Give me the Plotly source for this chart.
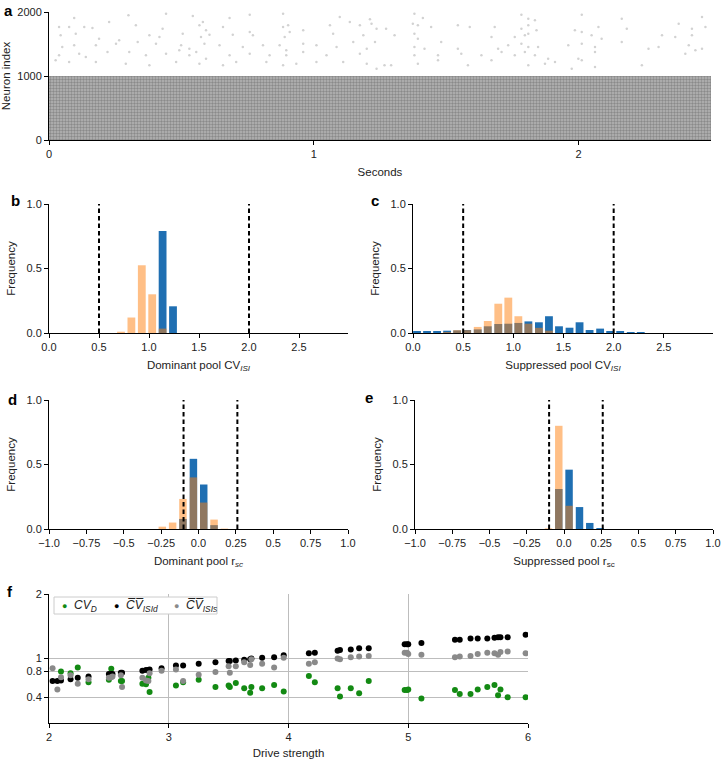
import plotly.graph_objects as go

W, H = 721, 759
FONT = "Liberation Sans, Arial, sans-serif"

# ---- (a) spike raster -------------------------------------------------------
DURATION_S = 2.5
DOMINANT_POOL = 1000
TOTAL_NEURONS = 2000
# spikes of the suppressed pool (neurons 1000-2000)
SUPP_SPIKE_T = [
    0.095, 0.30, 0.442, 0.543, 0.682, 0.758, 0.884, 1.098, 1.212, 0.038, 0.076, 0.133,
    0.164, 0.227, 0.328, 0.429, 0.568, 0.581, 0.593, 0.657, 0.758, 0.884, 0.903, 0.96,
    1.061, 1.136, 1.174, 1.218, 1.237, 0.044, 0.101, 0.189, 0.265, 0.379, 0.417, 0.505,
    0.574, 0.606, 0.694, 0.77, 0.89, 0.909, 1.073, 1.187, 0.05, 0.095, 0.177, 0.253,
    0.335, 0.404, 0.499, 0.53, 0.587, 0.644, 0.732, 0.808, 0.871, 0.896, 0.96, 1.01,
    1.086, 1.149, 1.2, 1.231, 0.038, 0.114, 0.139, 0.221, 0.303, 0.366, 0.442, 0.492,
    0.53, 0.556, 0.593, 0.682, 0.758, 0.833, 0.896, 0.96, 1.048, 1.174, 0.025, 0.076,
    0.177, 0.29, 0.379, 0.48, 0.568, 0.657, 0.707, 0.821, 0.884, 0.934, 1.01, 1.111,
    1.2, 1.237,
    1.38, 1.412, 1.784, 1.81, 1.835, 2.012, 2.163, 2.466, 1.273, 1.374, 1.393, 1.443,
    1.544, 1.589, 1.683, 1.784, 1.81, 1.841, 1.986, 2.012, 2.075, 2.182, 2.378, 2.428,
    2.479, 1.305, 1.38, 1.393, 1.481, 1.671, 1.759, 1.797, 1.81, 2.049, 2.087, 2.163,
    2.315, 2.365, 2.428, 1.38, 1.418, 1.544, 1.696, 1.734, 1.784, 1.81, 1.847, 1.961,
    2.012, 2.062, 2.264, 2.302, 2.416, 2.466, 1.38, 1.469, 1.557, 1.633, 1.709, 1.759,
    1.797, 1.835, 1.885, 1.999, 2.062, 2.403, 2.441, 1.267, 1.292, 1.393, 1.469, 1.582,
    1.671, 1.81, 1.873, 1.911, 1.974, 2.012, 2.062, 2.239,
]
SUPP_SPIKE_N = [
    1906, 1948, 1974, 1938, 1906, 1958, 1974, 1922, 1885, 1766, 1766, 1766,
    1750, 1844, 1792, 1740, 1792, 1844, 1714, 1766, 1688, 1766, 1792, 1714,
    1792, 1844, 1792, 1818, 1740, 1635, 1661, 1583, 1557, 1635, 1609, 1661,
    1609, 1646, 1646, 1635, 1609, 1688, 1661, 1635, 1453, 1479, 1479, 1505,
    1531, 1505, 1479, 1427, 1505, 1479, 1453, 1479, 1479, 1401, 1505, 1479,
    1453, 1531, 1427, 1531, 1323, 1349, 1297, 1375, 1375, 1323, 1349, 1401,
    1323, 1375, 1271, 1323, 1349, 1323, 1323, 1375, 1323, 1349, 1245, 1219,
    1219, 1193, 1167, 1219, 1193, 1167, 1219, 1219, 1167, 1193, 1219, 1219,
    1193, 1115,
    1974, 1906, 1958, 1896, 1870, 1958, 1896, 1922, 1740, 1818, 1792, 1766,
    1792, 1766, 1766, 1740, 1792, 1714, 1714, 1688, 1766, 1740, 1818, 1740,
    1766, 1635, 1661, 1583, 1531, 1609, 1609, 1635, 1661, 1635, 1583, 1531,
    1635, 1609, 1635, 1453, 1427, 1427, 1427, 1479, 1505, 1453, 1453, 1479,
    1505, 1453, 1427, 1453, 1479, 1427, 1323, 1323, 1349, 1323, 1375, 1323,
    1375, 1323, 1271, 1271, 1375, 1349, 1401, 1167, 1167, 1193, 1245, 1167,
    1245, 1167, 1193, 1219, 1115, 1245, 1141, 1167,
]

# ---- (b)-(e) histograms (blue = first set, orange = second set) ---------------
CV_BOUNDS = [0.5, 2.0]
RSC_BOUNDS = [-0.1, 0.26]

B_BINS = [0.72, 0.824, 0.928, 1.032, 1.136, 1.24]
B_BLUE = [0.0, 0.0, 0.0, 0.0, 0.79, 0.207]
B_ORANGE = [0.01, 0.12, 0.525, 0.30, 0.034, 0.0]

C_BINS = [0.04, 0.14, 0.24, 0.34, 0.44, 0.54, 0.645, 0.745, 0.85, 0.95, 1.05, 1.15,
          1.255, 1.355, 1.455, 1.56, 1.66, 1.76, 1.865, 1.965, 2.065, 2.17, 2.27]
C_BLUE = [0.013, 0.010, 0.010, 0.018, 0.020, 0.023, 0.028, 0.052, 0.070, 0.072, 0.078,
          0.090, 0.083, 0.130, 0.052, 0.041, 0.083, 0.023, 0.034, 0.013, 0.008, 0.005, 0.003]
C_ORANGE = [0.0, 0.0, 0.0, 0.008, 0.022, 0.022, 0.047, 0.093, 0.227, 0.274, 0.130,
            0.072, 0.040, 0.018, 0.0, 0.0, 0.0, 0.0, 0.0, 0.0, 0.0, 0.0, 0.0]

D_BINS = [-0.242, -0.173, -0.104, -0.034, 0.035, 0.104, 0.173]
D_BLUE = [0.0, 0.0, 0.078, 0.544, 0.345, 0.030, 0.0]
D_ORANGE = [0.018, 0.05, 0.233, 0.40, 0.205, 0.073, 0.003]

E_BINS = [-0.104, -0.035, 0.034, 0.104, 0.173, 0.242]
E_BLUE = [0.0, 0.31, 0.46, 0.17, 0.047, 0.005]
E_ORANGE = [0.005, 0.80, 0.18, 0.0, 0.0, 0.0]

# ---- (f) CV vs drive strength ----------------------------------------------------
DRIVE = [2.03, 2.07, 2.10, 2.18, 2.24, 2.33, 2.50, 2.52, 2.53, 2.60, 2.61, 2.78, 2.81,
         2.83, 2.84, 2.94, 3.06, 3.12, 3.25, 3.39, 3.50, 3.51, 3.56, 3.63, 3.68, 3.69,
         3.78, 3.88, 3.96, 4.17, 4.22, 4.41, 4.43, 4.52, 4.59, 4.67, 4.97, 4.99, 5.00,
         5.11, 5.39, 5.43, 5.52, 5.58, 5.66, 5.72, 5.75, 5.77, 5.83, 5.98]
CV_D = [None, None, 0.80, 0.77, 0.86, 0.63, 0.67, 0.84, None, 0.65, 0.65, 0.61, 0.60,
        0.70, 0.48, None, 0.58, 0.63, 0.67, 0.56, 0.58, 0.56, 0.62, 0.54, 0.47, 0.56,
        0.54, 0.59, 0.49, 0.73, 0.63, 0.54, 0.41, 0.54, 0.46, 0.65, 0.51, 0.51, 0.52,
        0.38, 0.51, 0.45, 0.45, 0.52, 0.56, 0.59, 0.43, 0.52, 0.40, 0.40]
CV_ISID = [0.65, 0.65, 0.66, 0.68, 0.70, 0.72, 0.76, 0.76, 0.76, 0.78, 0.78, 0.81, 0.82,
           0.82, 0.83, 0.85, 0.89, 0.89, 0.92, 0.94, 0.96, 0.96, 0.97, 0.98, 0.99, 1.00,
           1.01, 1.02, 1.05, 1.08, 1.09, 1.12, 1.13, 1.14, 1.16, 1.16, 1.22, 1.22, 1.22,
           1.24, 1.29, 1.29, 1.31, 1.31, 1.31, 1.32, 1.33, 1.33, 1.33, 1.37]
CV_ISIS = [0.85, 0.52, 0.71, 0.74, 0.61, 0.68, 0.70, 0.71, 0.72, 0.74, 0.56, 0.70, 0.66,
           0.65, 0.77, 0.81, 0.83, 0.65, 0.75, 0.79, 0.88, 0.78, 0.88, 0.94, 0.90, 0.99,
           0.92, 0.86, 1.01, 0.92, 0.94, 1.00, 0.99, 1.02, 1.03, 1.04, 1.09, 1.09, 1.07,
           1.06, 1.02, 1.03, 1.04, 1.07, 1.09, 1.08, 1.06, 1.10, 1.11, 1.08]

BLUE = "#1f6fb2"
ORANGE = "rgba(255,127,14,0.5)"


def dom_x(a, b):
    return [a / W, b / W]


def dom_y(top, bottom):
    return [1 - bottom / H, 1 - top / H]


fig = go.Figure()

# (a) dominant pool as a dense textured block, suppressed pool as sparse dots
fig.add_trace(go.Bar(
    x=[DURATION_S / 2], y=[DOMINANT_POOL], width=[DURATION_S],
    marker=dict(color="#a6a6a6", line=dict(width=0),
                pattern=dict(shape=".", fgcolor="#8a8a8a", bgcolor="#b6b6b6",
                             size=3, solidity=0.5)),
    xaxis="x", yaxis="y", showlegend=False, hoverinfo="skip"))
fig.add_trace(go.Scatter(
    x=SUPP_SPIKE_T, y=SUPP_SPIKE_N, mode="markers",
    marker=dict(color="#d2d2d2", size=2.5), xaxis="x", yaxis="y", showlegend=False))

# (b)-(e)
hists = [
    ("2", B_BINS, B_BLUE, B_ORANGE, 0.078),
    ("3", C_BINS, C_BLUE, C_ORANGE, 0.078),
    ("4", D_BINS, D_BLUE, D_ORANGE, 0.05),
    ("5", E_BINS, E_BLUE, E_ORANGE, 0.05),
]
for ax, bins, blue, orange, w in hists:
    fig.add_trace(go.Bar(x=bins, y=blue, width=w, marker=dict(color=BLUE, line=dict(width=0)),
                         xaxis="x" + ax, yaxis="y" + ax, showlegend=False))
    fig.add_trace(go.Bar(x=bins, y=orange, width=w, marker=dict(color=ORANGE, line=dict(width=0)),
                         xaxis="x" + ax, yaxis="y" + ax, showlegend=False))

for ax, bounds in [("2", CV_BOUNDS), ("3", CV_BOUNDS), ("4", RSC_BOUNDS), ("5", RSC_BOUNDS)]:
    for v in bounds:
        fig.add_shape(type="line", x0=v, x1=v, y0=0, y1=1, xref="x" + ax,
                      yref="y" + ax + " domain",
                      line=dict(color="black", width=2, dash="4.5px,3px"))

# (f)
series = [
    ("<i>CV</i><sub><i>D</i></sub>", CV_D, "#138a13"),
    ("<i>C\u0305V\u0305</i><sub><i>ISId</i></sub>", CV_ISID, "#000000"),
    ("<i>C\u0305V\u0305</i><sub><i>ISIs</i></sub>", CV_ISIS, "#8a8a8a"),
]
for name, vals, col in series:
    fig.add_trace(go.Scatter(x=DRIVE, y=vals, mode="markers", name=name,
                             marker=dict(color=col, size=6), showlegend=False,
                             xaxis="x6", yaxis="y6"))

# compact legend box for (f)
fig.add_shape(type="rect", xref="paper", yref="paper",
              x0=54 / W, x1=217 / W, y0=1 - 614 / H, y1=1 - 597 / H,
              line=dict(color="#cccccc", width=1), fillcolor="white", layer="above")
for (name, _, col), px in zip(series, [60, 112, 172]):
    fig.add_annotation(
        text='<span style="color:%s;font-size:9px">\u25cf</span>  %s' % (col, name),
        x=px / W, y=1 - 606 / H, xref="paper", yref="paper", xanchor="left",
        yanchor="middle", showarrow=False, font=dict(family=FONT, size=12, color="#222"))

tick_font = dict(family=FONT, size=11, color="#222")
title_font = dict(family=FONT, size=11.5, color="#222")


def axis(domain, anchor, **kw):
    d = dict(domain=domain, anchor=anchor, showline=True, linecolor="black",
             linewidth=1, ticks="outside", ticklen=4, tickcolor="black",
             showgrid=False, zeroline=False, tickfont=tick_font, fixedrange=True,
             automargin=False)
    d.update(kw)
    return d


hist_x_cv = dict(range=[0, 2.99], tickvals=[0, 0.5, 1, 1.5, 2, 2.5],
                 ticktext=["0.0", "0.5", "1.0", "1.5", "2.0", "2.5"])
hist_x_rsc = dict(range=[-1, 1], tickvals=[-1, -0.75, -0.5, -0.25, 0, 0.25, 0.5, 0.75, 1],
                  ticktext=["\u22121.0", "\u22120.75", "\u22120.5", "\u22120.25", "0.0",
                            "0.25", "0.5", "0.75", "1.0"])
hist_y = dict(range=[0, 1], tickvals=[0, 0.5, 1], ticktext=["0.0", "0.5", "1.0"],
              title=dict(text="Frequency", font=title_font, standoff=8))

fig.update_layout(
    width=W, height=H, margin=dict(l=0, r=0, t=0, b=0, autoexpand=False),
    template="none",
    paper_bgcolor="white", plot_bgcolor="white", barmode="overlay",
    font=dict(family=FONT, size=11, color="#222"),
    xaxis=axis(dom_x(49, 711), "y", range=[0, DURATION_S], tickvals=[0, 1, 2],
               title=dict(text="Seconds", font=title_font, standoff=8)),
    yaxis=axis(dom_y(12, 140), "x", range=[0, TOTAL_NEURONS], tickvals=[0, 1000, 2000],
               title=dict(text="Neuron index", font=title_font, standoff=8)),
    xaxis2=axis(dom_x(49, 348), "y2", **hist_x_cv,
                title=dict(text="Dominant pool CV<sub><i>ISI</i></sub>", font=title_font, standoff=8)),
    yaxis2=axis(dom_y(204, 333), "x2", **hist_y),
    xaxis3=axis(dom_x(413, 713), "y3", **hist_x_cv,
                title=dict(text="Suppressed pool CV<sub><i>ISI</i></sub>", font=title_font, standoff=8)),
    yaxis3=axis(dom_y(204, 333), "x3", **hist_y),
    xaxis4=axis(dom_x(49, 348), "y4", **hist_x_rsc,
                title=dict(text="Dominant pool r<sub><i>sc</i></sub>", font=title_font, standoff=8)),
    yaxis4=axis(dom_y(400, 529), "x4", **hist_y),
    xaxis5=axis(dom_x(415, 713), "y5", **hist_x_rsc,
                title=dict(text="Suppressed pool r<sub>sc</sub>", font=title_font, standoff=8)),
    yaxis5=axis(dom_y(400, 529), "x5", **hist_y),
    xaxis6=axis(dom_x(49, 528), "y6", range=[2, 6], tickvals=[2, 3, 4, 5, 6],
                showgrid=True, gridcolor="#bdbdbd", gridwidth=1,
                title=dict(text="Drive strength", font=title_font, standoff=8)),
    yaxis6=axis(dom_y(594, 723), "x6", range=[0, 2], tickvals=[0.4, 0.8, 1, 2],
                ticktext=["0.4", "0.8", "1", "2"],
                showgrid=True, gridcolor="#bdbdbd", gridwidth=1),
    showlegend=False,
)

letters = [("a", 2, 0), ("b", 9, 190), ("c", 369, 190), ("d", 6, 389), ("e", 363, 387), ("f", 5, 581)]
for txt, px, py in letters:
    fig.add_annotation(text="<b>%s</b>" % txt, x=px / W, y=1 - py / H, xref="paper", yref="paper",
                       xanchor="left", yanchor="top", showarrow=False,
                       font=dict(family=FONT, size=15, color="black"))

# the page's default 8px body margin would push the figure off the window
fig.write_html("out.html", config={"displayModeBar": False},
               post_script="document.body.style.margin='0';")
